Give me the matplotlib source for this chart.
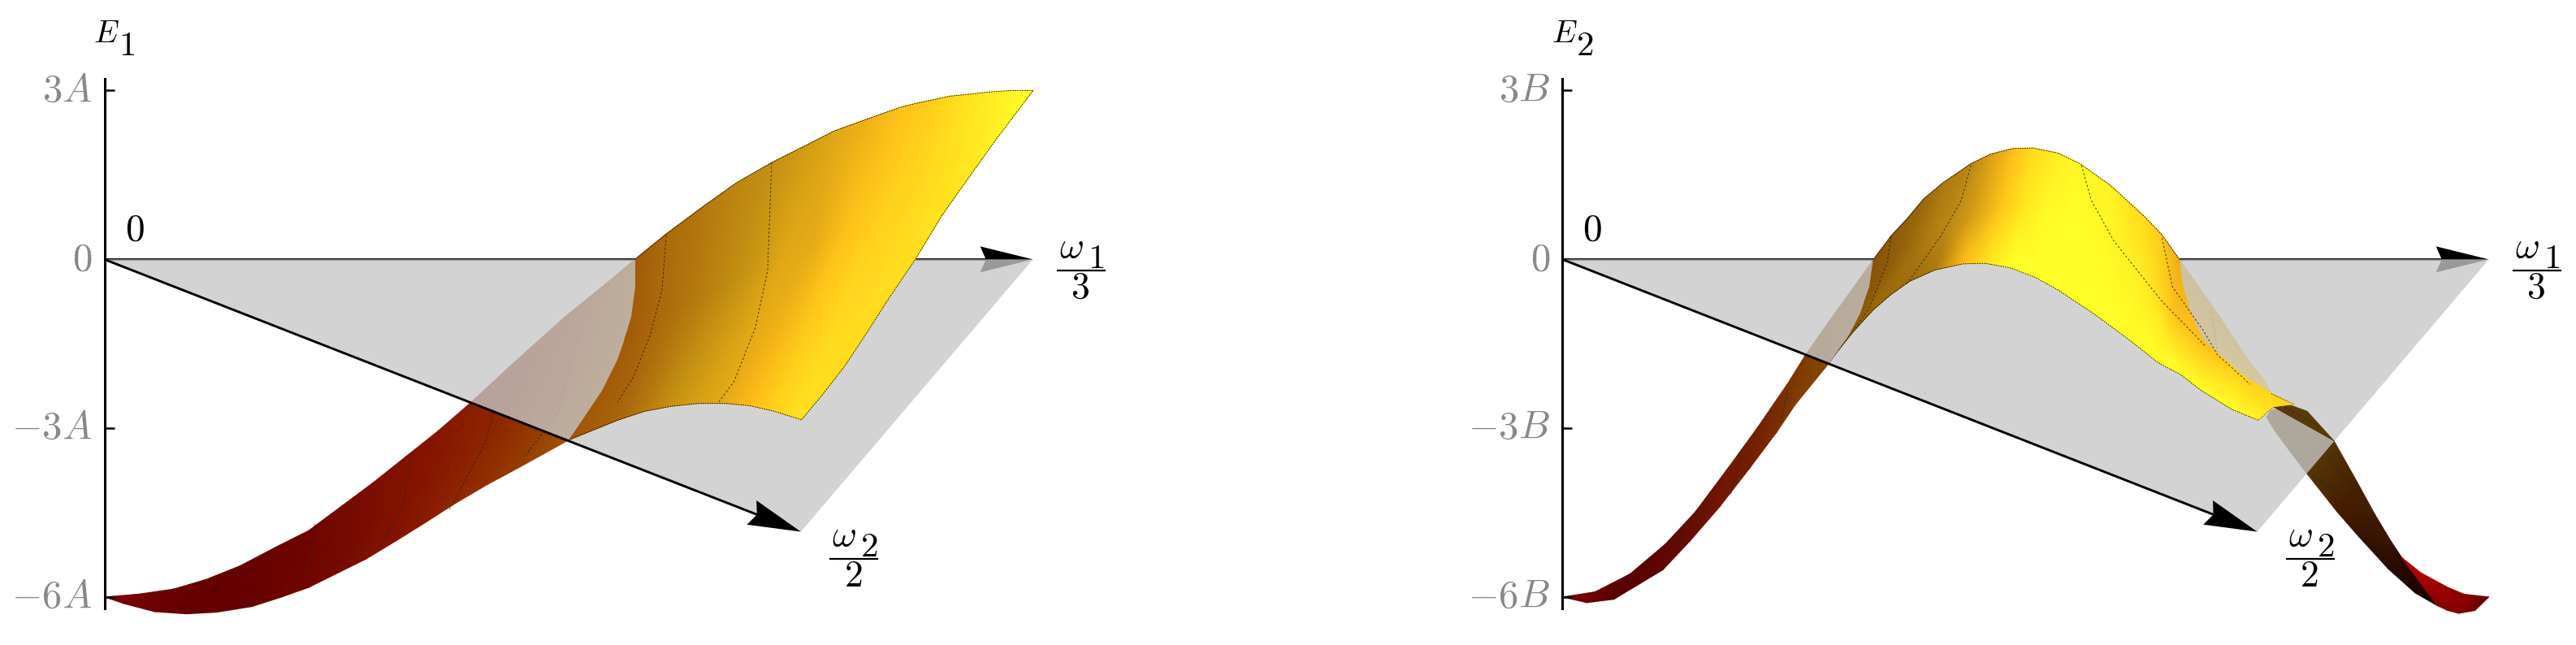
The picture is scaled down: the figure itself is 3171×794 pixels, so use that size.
import matplotlib
matplotlib.use('Agg')
import numpy as np
import matplotlib.pyplot as plt
from matplotlib.colors import LinearSegmentedColormap
from matplotlib.patches import Polygon
from matplotlib.transforms import IdentityTransform, ScaledTranslation

plt.rcParams['mathtext.fontset'] = 'cm'

# horizontal position is in percent of the omega_1 axis, vertical is E in units of A / B
plane_x = [0, 100, 75]
plane_E = [0, 0, -4.84]
ticks = [-6, -3, 0, 3]
labels_1 = [r'$-6A$', r'$-3A$', r'$0$', r'$3A$']
labels_2 = [r'$-6B$', r'$-3B$', r'$0$', r'$3B$']

# E1 surface, three rows across the ribbon
e1_top_x = [0, 3.63, 7.42, 10.92, 14.57, 18.50, 22.0, 25.5, 29.0, 32.5, 36.0, 39.35, 44.0, 49.6, 53.5,
            57.14, 60.49, 64.57, 68.07, 71.86, 75.36, 78.57, 82.07, 85.86, 87.6, 89.36, 91.0, 93.44, 95.0, 96.65, 97.8, 99.0, 100]
e1_top_E = [-6, -5.95, -5.86, -5.69, -5.45, -5.11, -4.82, -4.39, -3.96, -3.50, -3.04, -2.56, -1.85, -1.02, -0.5,
            0, 0.45, 0.95, 1.36, 1.72, 2.01, 2.28, 2.49, 2.71, 2.78, 2.84, 2.90, 2.94, 2.97, 2.99, 3.0, 3.0, 3]
e1_mid_x = [0, 3.0, 6.6, 10.2, 13.6, 17.5, 20.9, 24.2, 27.4, 30.7, 34.1, 37.4, 41.4, 46.0, 50.2,
            56.1, 58.8, 62.6, 66.0, 69.5, 73.0, 76.5, 80.0, 83.4, 85.0, 86.0, 87.9, 90.3, 92.0, 94.3, 96.0, 97.6, 100]
e1_mid_E = [-6, -6.04, -6.06, -6.0, -5.86, -5.64, -5.41, -5.11, -4.78, -4.42, -4.03, -3.62, -3.10, -2.51, -2.1,
            -1.38, -1.15, -0.75, -0.5, -0.2, 0.1, 0.3, 0.55, 0.8, 1.0, 1.1, 1.4, 1.65, 1.8, 2.2, 2.4, 2.58, 3]
e1_low_x = [0, 2.17, 5.38, 8.88, 12.09, 15.88, 19.09, 22.0, 24.92, 28.12, 31.33, 34.54, 37.75, 41.25, 44.75,
            50.0, 55.24, 58.16, 61.07, 63.99, 66.90, 69.53, 72.15, 75.07, 77.4, 79.75, 82.08, 84.41, 87.32, 90.23, 93.15, 96.06, 100]
e1_low_E = [-6, -6.12, -6.26, -6.30, -6.27, -6.17, -6.0, -5.83, -5.59, -5.33, -5.01, -4.68, -4.34, -4.0, -3.69,
            -3.21, -2.86, -2.70, -2.61, -2.56, -2.56, -2.60, -2.70, -2.85, -2.39, -1.89, -1.31, -0.71, 0.0, 0.79, 1.47, 2.14, 3]
e1_top_shade = [0, .02, .04, .05, .06, .08, .10, .13, .16, .18, .20, .22, .24, .28, .32,
                .37, .42, .46, .50, .54, .58, .62, .66, .72, .75, .78, .82, .88, .91, .94, .96, .98, 1]
e1_mid_shade = [0, .02, .04, .05, .06, .07, .09, .12, .145, .175, .195, .22, .245, .28, .315,
                .37, .40, .45, .50, .56, .62, .64, .72, .78, .80, .80, .82, .85, .87, .90, .93, .97, 1]
e1_low_shade = [0, .02, .04, .05, .06, .07, .09, .11, .13, .17, .19, .22, .25, .28, .31,
                .36, .40, .47, .55, .60, .64, .70, .80, .87, .85, .85, .85, .85, .86, .87, .90, .95, 1]

# part of the E1 picture that lies above the grey plane
e1_above_x = [57.14, 57.14, 56.7, 55.97, 55.24, 53.6, 50.0, 51.2, 106, 106, 57.14]
e1_above_E = [0, -0.49, -1.02, -1.45, -1.79, -2.33, -3.21, -4.2, -4.2, 3.9, 3.9]

# E2 surface, left wing and central hill
e2_top_x = [0, 3.51, 7.31, 11.11, 14.33, 17.83, 21.05, 24.26, 26.16, 28.70, 33.59, 35.50, 37.31, 38.97, 41.08, 44.10,
            46.22, 48.63, 50.75, 53.47, 55.88, 59.2, 62.83, 64.64, 66.60, 70.38, 74.24, 75.70, 76.58, 79.06]
e2_top_E = [-6, -5.91, -5.59, -5.06, -4.49, -3.72, -2.99, -2.22, -1.72, -1.12, 0, 0.42, 0.74, 1.07, 1.36, 1.70,
            1.87, 1.97, 1.98, 1.89, 1.70, 1.31, 0.76, 0.45, 0, -0.88, -1.84, -2.13, -2.39, -2.58]
e2_mid_x = [0, 3.1, 6.4, 11.0, 14.0, 17.4, 20.6, 23.7, 25.7, 28.7, 32.63, 34.59, 36.25, 38.06, 39.73, 42.0,
            44.10, 47.43, 49.84, 52.26, 54.67, 58.3, 62.0, 63.8, 66.0, 69.5, 72.5, 74.2, 75.9, 77.9]
e2_mid_E = [-6, -6.0, -5.82, -5.29, -4.75, -4.06, -3.35, -2.65, -2.15, -1.49, -0.73, -0.25, -0.01, 0.28, 0.42, 0.62,
            0.86, 0.95, 0.95, 0.86, 0.66, 0.18, -0.35, -0.6, -0.95, -1.55, -2.2, -2.48, -2.6, -2.61]
e2_low_x = [0, 2.63, 5.56, 10.82, 13.74, 16.96, 20.17, 23.09, 25.14, 28.70, 29.76, 31.42, 33.53, 35.35, 37.46, 40.18,
            43.2, 45.61, 48.33, 51.05, 53.47, 57.39, 61.02, 64.34, 66.75, 68.87, 72.2, 73.5, 75.12, 76.73]
e2_low_E = [-6, -6.10, -6.04, -5.52, -5.01, -4.40, -3.72, -3.08, -2.58, -1.86, -1.62, -1.28, -0.90, -0.64, -0.39, -0.19,
            -0.08, -0.07, -0.15, -0.32, -0.54, -0.97, -1.41, -1.84, -2.05, -2.32, -2.66, -2.75, -2.86, -2.63]
e2_top_shade = [0, .02, .05, .09, .12, .17, .20, .27, .32, .35, .38, .40, .42, .44, .50, .55,
                .62, .70, .82, .92, .97, .93, .82, .75, .66, .66, .70, .75, .80, .80]
e2_mid_shade = [0, .02, .05, .09, .12, .17, .20, .27, .32, .35, .38, .40, .43, .47, .52, .56,
                .60, .74, .88, .97, 1, .98, .93, .86, .72, .72, .85, .85, .85, .80]
e2_low_shade = [0, .02, .05, .09, .12, .17, .20, .27, .32, .35, .37, .42, .45, .46, .46, .50,
                .70, .85, 1, 1, 1, 1, 1, 1, 1, 1, 1, .98, .95, .85]

e2_above_x = [33.59, 33.08, 32.18, 30.82, 28.85, 28.85, 75.12, 75.12, 76.73, 79.06, 76.43, 73.66, 70.68, 69.17, 67.66,
              66.9, 66.6, 66.6, 33.59]
e2_above_E = [0, -0.49, -0.97, -1.36, -1.84, -3.0, -3.0, -2.86, -2.63, -2.58, -2.37, -2.08, -1.65, -1.41, -0.88,
              -0.39, 0, 3, 3]

# E2 right wing, the repeated column is the fold into the red tip
wing_up_x = [76.73, 78.04, 80.38, 83.30, 85.93, 87.69, 89.44, 90.61, 90.61, 90.61, 92.66, 95.58, 97.33, 100]
wing_up_E = [-2.63, -2.56, -2.70, -3.23, -4.00, -4.53, -5.01, -5.30, -5.30, -5.30, -5.57, -5.83, -5.95, -6.0]
wing_lo_x = [76.0, 76.87, 78.63, 80.38, 83.60, 85.93, 89.15, 92.07, 94.41, 94.41, 95.58, 96.75, 98.50, 100]
wing_lo_E = [-2.80, -3.04, -3.43, -3.81, -4.48, -4.92, -5.50, -5.93, -6.15, -6.15, -6.24, -6.29, -6.24, -6.0]
wing_up_shade = [1, .98, 1, .95, .82, .78, .72, .65, .60, 0, .05, .12, .15, .30]
wing_lo_shade = [1, .98, 1, .95, .80, .72, .65, .58, .55, .20, .20, .20, .25, .30]
wing_above_x = [76.73, 83.30, 90, 90, 76.73]
wing_above_E = [-2.63, -3.23, -3.23, -2, -2]

# thin mesh lines on the surfaces
e1_lines_under = [([51.2, 48.9, 45.3], [-1.16, -2.70, -3.50]),
                  ([41.98, 41.7], [-2.51, -2.85])]
e1_lines_over = [([60.49, 60.05, 58.74, 56.99, 55.24], [0.42, -0.54, -1.36, -2.08, -2.54]),
                 ([71.86, 71.42, 70.11, 67.78, 66.03], [1.72, -0.20, -1.21, -2.18, -2.56]),
                 ([22.67, 22.44, 20.54], [-4.71, -5.21, -5.83]),
                 ([33.08, 32.21, 29.58], [-3.45, -4.34, -5.16]),
                 ([41.7, 40.96, 37.17], [-2.85, -3.28, -4.44])]
e2_lines_under = [([70.2, 70.9, 72.4], [-1.05, -1.9, -2.3])]
e2_lines_over = [([35.5, 35.05, 33.08, 31.42], [0.40, -0.06, -0.88, -1.26]),
                 ([44.10, 43.05, 40.78, 37.16], [1.67, 1.05, 0.40, -0.44]),
                 ([56.03, 57.09, 59.51, 64.64, 69.47], [1.67, 1.05, 0.33, -0.73, -1.55]),
                 ([64.73, 65.85, 69.17, 70.68, 74.24], [0.38, -0.49, -1.26, -1.69, -2.22]),
                 ([13.1, 12.57], [-4.73, -5.16]),
                 ([19.15, 18.12], [-3.57, -4.20]),
                 ([24.41, 23.53], [-2.30, -2.90]),
                 ([78.04, 81.55], [-2.63, -2.95]),
                 ([82.72, 87.4], [-3.52, -4.48]),
                 ([81.0, 85.7, 90.6], [-3.85, -4.36, -5.33])]


# colours
def cmap_from(name, stops):
    return LinearSegmentedColormap.from_list(name, [(s, tuple(v / 255 for v in c)) for s, c in stops])


e1_cmap = cmap_from('e1_surface', [
    (0.00, (130, 0, 8)), (0.05, (100, 0, 0)), (0.12, (115, 8, 0)), (0.20, (135, 22, 0)), (0.28, (145, 50, 0)),
    (0.34, (155, 75, 5)), (0.38, (165, 95, 10)), (0.46, (180, 120, 15)), (0.56, (200, 150, 20)),
    (0.70, (255, 188, 25)), (0.85, (255, 222, 30)), (1.00, (255, 255, 40))])
e2_cmap = cmap_from('e2_surface', [
    (0.00, (125, 0, 5)), (0.05, (85, 0, 0)), (0.15, (110, 20, 0)), (0.30, (125, 55, 0)), (0.40, (140, 90, 10)),
    (0.55, (185, 135, 20)), (0.70, (255, 188, 25)), (0.85, (255, 225, 30)), (1.00, (255, 255, 40))])
wing_cmap = cmap_from('wing_surface', [
    (0.00, (190, 5, 5)), (0.25, (115, 0, 0)), (0.50, (20, 0, 0)),
    (0.60, (30, 5, 0)), (0.80, (70, 30, 0)), (1.00, (90, 60, 10))])
PLANE = (199 / 255, 199 / 255, 199 / 255)
GREY = '#888888'

W, H = 3171, 794
Y0_PX, PX_PER_E = 319.3, 69.27
TOP_E, BOTTOM_E = 3.21, -6.4


def make_panel(fig, left_px, right_px, tick_labels):
    top_px = Y0_PX - TOP_E * PX_PER_E
    bottom_px = Y0_PX - BOTTOM_E * PX_PER_E
    ax = fig.add_axes([left_px / W, 1 - bottom_px / H, (right_px - left_px) / W, (bottom_px - top_px) / H])
    ax.set_xlim(0, 100)
    ax.set_ylim(BOTTOM_E, TOP_E)
    ax.patch.set_visible(False)
    for side in ['top', 'right', 'bottom']:
        ax.spines[side].set_visible(False)
    ax.spines['left'].set_bounds(-6.2, TOP_E)
    ax.spines['left'].set_linewidth(2.2)
    ax.set_xticks([])
    ax.set_yticks(ticks)
    ax.set_yticklabels(tick_labels, color=GREY, fontsize=35)
    ax.tick_params(axis='y', direction='in', length=8.6, width=1.8, pad=11)
    lift = ScaledTranslation(0, 6 / 100, fig.dpi_scale_trans)
    for label in ax.get_yticklabels():
        label.set_transform(label.get_transform() + lift)
    return ax


def surface(ax, xs, es, shades, cmap, z, clip=None):
    mesh = ax.pcolormesh(np.array(xs), np.array(es), np.array(shades), cmap=cmap, vmin=0, vmax=1,
                         shading='gouraud', zorder=z)
    if clip is not None:
        mesh.set_clip_path(Polygon(np.column_stack(clip), transform=ax.transData))
    else:
        mesh.set_clip_on(False)
    return mesh


def mesh_lines(ax, lines, z, color='#222222'):
    for x, e in lines:
        ln, = ax.plot(x, e, color=color, lw=0.6, ls=(0, (3, 3)), zorder=z)
        ln.set_clip_on(False)


def edge_line(ax, x, e, clip, z):
    ln, = ax.plot(x, e, color='k', lw=0.6, ls=(0, (2, 1.5)), zorder=z)
    ln.set_clip_path(Polygon(np.column_stack(clip), transform=ax.transData))


def arrow(ax, tip, z):
    p0 = ax.transData.transform((0, 0))
    p1 = ax.transData.transform(tip)
    d = (p1 - p0) / np.hypot(*(p1 - p0))
    n = np.array([-d[1], d[0]])
    notch = p1 - 58 * d
    ax.add_patch(Polygon([p1, p1 - 65 * d + 16 * n, notch, p1 - 65 * d - 16 * n], transform=IdentityTransform(),
                         fc='k', ec='none', zorder=z, clip_on=False))
    ax.add_line(plt.Line2D([p0[0], notch[0]], [p0[1], notch[1]], transform=IdentityTransform(), color='k',
                           lw=2.1, zorder=z, solid_capstyle='butt', clip_on=False))


def put(ax, s, xy, dx, dy, size, ha='left'):
    ax.annotate(s, xy=xy, xycoords='data', xytext=(dx, dy), textcoords='offset pixels', fontsize=size,
                ha=ha, va='baseline', color='k', annotation_clip=False, zorder=6)


def fraction(ax, tip, dx, dy, sub, den):
    put(ax, r'$\omega$', tip, dx, dy, 33)
    put(ax, '$%s$' % sub, tip, dx + 35, dy - 13.5, 31)
    put(ax, '$%s$' % den, tip, dx + 26, dy - 50, 33, ha='center')
    p = ax.transData.transform(tip)
    ax.add_line(plt.Line2D([p[0] + dx - 2, p[0] + dx + 56], [p[1] + dy - 16.5] * 2, transform=IdentityTransform(),
                           color='k', lw=1.6, clip_on=False))


def texts(ax, sub):
    put(ax, r'$E$', (0, 0), -13.5, 267, 28)
    put(ax, '$%s$' % sub, (0, 0), 17, 251, 31)
    put(ax, r'$0$', (0, 0), 25, 24, 34)
    fraction(ax, (100, 0), 32, 2.6, '1', '3')
    fraction(ax, (plane_x[2], plane_E[2]), 38, -17, '2', '2')


fig = plt.figure(figsize=(W / 100, H / 100), dpi=100, facecolor='white')

# E1
ax1 = make_panel(fig, 128.5, 1271.6, labels_1)
e1_xs = [e1_top_x, e1_mid_x, e1_low_x]
e1_es = [e1_top_E, e1_mid_E, e1_low_E]
e1_ss = [e1_top_shade, e1_mid_shade, e1_low_shade]
above1 = (e1_above_x, e1_above_E)
surface(ax1, e1_xs, e1_es, e1_ss, e1_cmap, 1)
mesh_lines(ax1, e1_lines_under, 1.1)
arrow(ax1, (100, 0), 1.5)
ax1.fill(plane_x, plane_E, color=PLANE, alpha=0.78, lw=0, zorder=2)
surface(ax1, e1_xs, e1_es, e1_ss, e1_cmap, 3, clip=above1)
edge_line(ax1, e1_top_x[15:], e1_top_E[15:], above1, 3.2)
edge_line(ax1, e1_low_x[15:], e1_low_E[15:], above1, 3.2)
mesh_lines(ax1, e1_lines_over, 3.1)
arrow(ax1, (plane_x[2], plane_E[2]), 4)
texts(ax1, '1')

# E2
ax2 = make_panel(fig, 1923.3, 3063.7, labels_2)
e2_xs = [e2_top_x, e2_mid_x, e2_low_x]
e2_es = [e2_top_E, e2_mid_E, e2_low_E]
e2_ss = [e2_top_shade, e2_mid_shade, e2_low_shade]
wing_xs = [wing_up_x, wing_lo_x]
wing_es = [wing_up_E, wing_lo_E]
wing_ss = [wing_up_shade, wing_lo_shade]
above2 = (e2_above_x, e2_above_E)
surface(ax2, wing_xs, wing_es, wing_ss, wing_cmap, 1)
surface(ax2, e2_xs, e2_es, e2_ss, e2_cmap, 1.05)
mesh_lines(ax2, e2_lines_under, 1.1)
arrow(ax2, (100, 0), 1.5)
ax2.fill(plane_x, plane_E, color=PLANE, alpha=0.78, lw=0, zorder=2)
surface(ax2, wing_xs, wing_es, wing_ss, wing_cmap, 2.9, clip=(wing_above_x, wing_above_E))
surface(ax2, e2_xs, e2_es, e2_ss, e2_cmap, 3, clip=above2)
edge_line(ax2, e2_top_x, e2_top_E, above2, 3.2)
edge_line(ax2, e2_low_x[9:], e2_low_E[9:], above2, 3.2)
mesh_lines(ax2, e2_lines_over, 3.1)
arrow(ax2, (plane_x[2], plane_E[2]), 4)
texts(ax2, '2')

fig.savefig('out.png', dpi=100)
